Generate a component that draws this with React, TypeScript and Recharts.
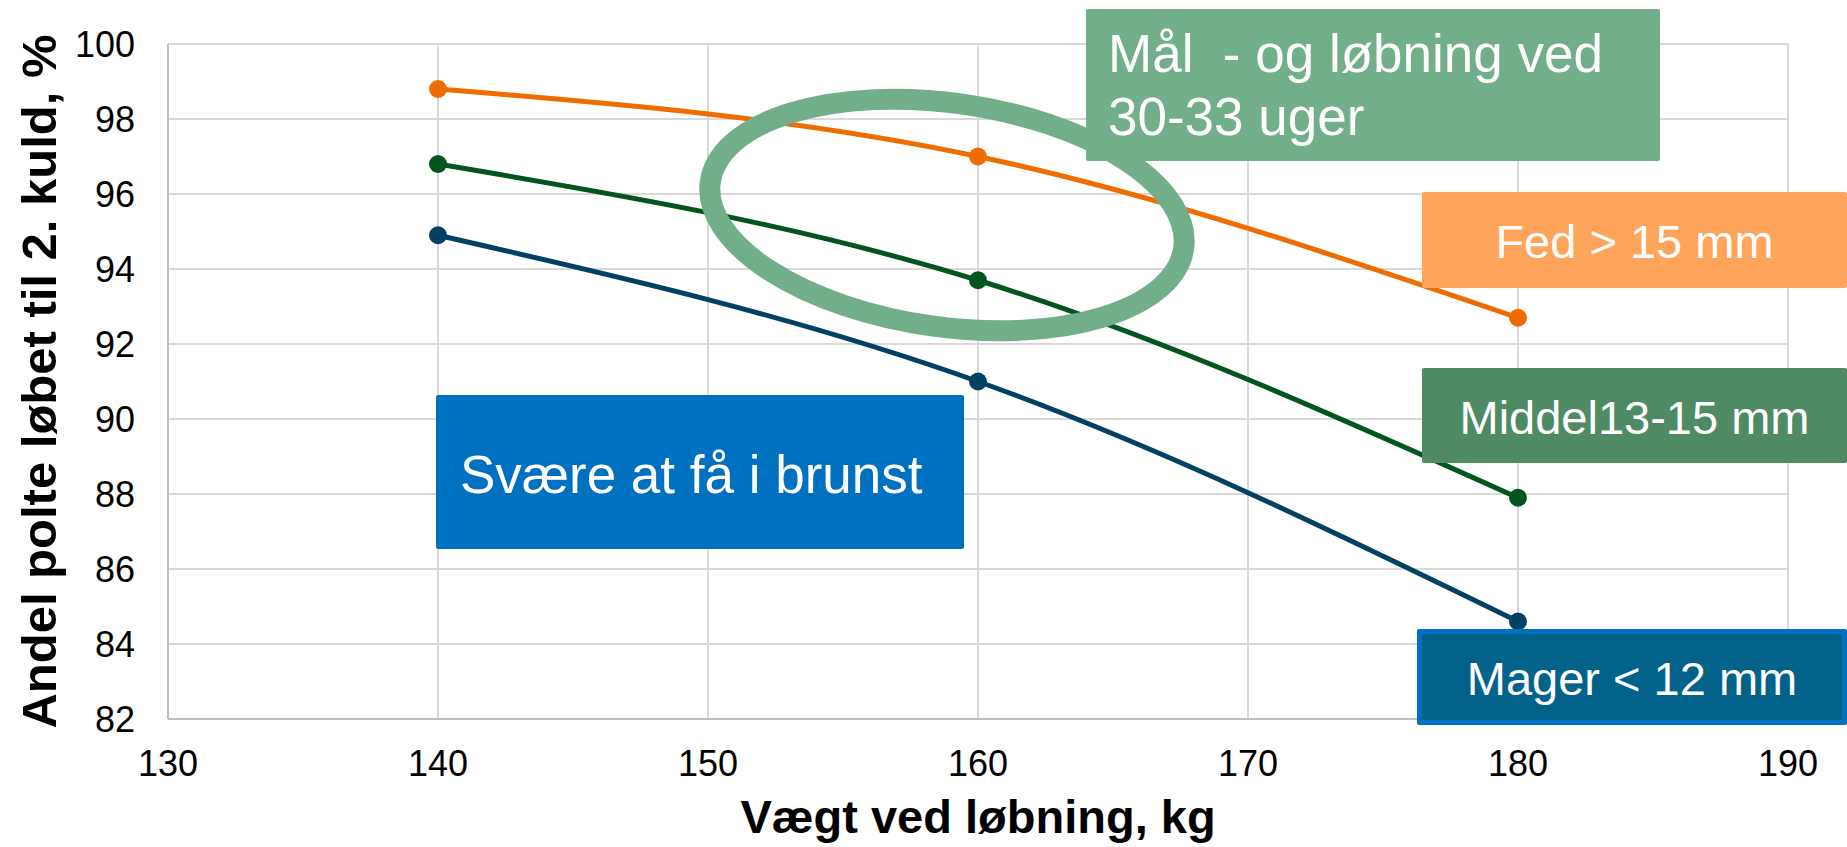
import { LineChart, Line, XAxis, YAxis, CartesianGrid, Label } from 'recharts'

const weights = [140, 160, 180]
const fed = [98.8, 97.0, 92.7]
const middel = [96.8, 93.7, 87.9]
const mager = [94.9, 91.0, 84.6]

const xTicks = [130, 140, 150, 160, 170, 180, 190]
const yTicks = [82, 84, 86, 88, 90, 92, 94, 96, 98, 100]

const FONT = '"Liberation Sans", Arial, sans-serif'
const FED_COLOR = '#EF6C00'
const MIDDEL_COLOR = '#03551F'
const MAGER_COLOR = '#024163'
const RING_COLOR = '#72AE8A'

const data = weights.map((w, i) => ({
  vaegt: w,
  fed: fed[i],
  middel: middel[i],
  mager: mager[i],
}))

type NoteProps = {
  left: number
  top: number
  width: number
  height: number
  bg: string
  border?: string
  fontSize: number
  lineHeight: number
  padTop: number
  padLeft?: number
  align: 'left' | 'center'
  lines: string[]
}

function Note(p: NoteProps) {
  return (
    <div
      style={{
        position: 'absolute',
        left: p.left,
        top: p.top,
        width: p.width,
        height: p.height,
        background: p.bg,
        border: p.border,
        boxSizing: 'border-box',
        borderRadius: 2,
        color: '#fff',
        fontFamily: FONT,
        fontSize: p.fontSize,
        lineHeight: `${p.lineHeight}px`,
        textAlign: p.align,
        paddingTop: p.padTop,
        paddingLeft: p.padLeft ?? 0,
        whiteSpace: 'pre',
      }}
    >
      {p.lines.map((l) => (
        <div key={l}>{l}</div>
      ))}
    </div>
  )
}

export default function App() {
  return (
    <div style={{ position: 'absolute', left: 0, top: 0, width: 1847, height: 847, background: '#fff' }}>
      <LineChart width={1847} height={847} data={data} margin={{ top: 44, right: 59, bottom: 0, left: 18 }}>
        <CartesianGrid stroke="#D9D9D9" strokeWidth={2} />
        <XAxis
          dataKey="vaegt"
          type="number"
          domain={[130, 190]}
          ticks={xTicks}
          height={128}
          tickSize={0}
          tickMargin={31}
          tickLine={false}
          axisLine={{ stroke: '#BFBFBF', strokeWidth: 2 }}
          tick={{ fill: '#000', fontSize: 36, fontFamily: FONT }}
        >
          <Label
            value="Vægt ved løbning, kg"
            position="insideBottom"
            offset={14}
            style={{ fill: '#000', fontSize: 47, fontWeight: 'bold', fontFamily: FONT }}
          />
        </XAxis>
        <YAxis
          type="number"
          domain={[82, 100]}
          ticks={yTicks}
          width={150}
          tickSize={0}
          tickMargin={33}
          tickLine={false}
          axisLine={{ stroke: '#BFBFBF', strokeWidth: 2 }}
          tick={{ fill: '#000', fontSize: 36, fontFamily: FONT }}
        >
          <Label
            value="Andel polte løbet til 2. kuld, %"
            angle={-90}
            position="insideLeft"
            offset={21}
            style={{ fill: '#000', fontSize: 49, fontWeight: 'bold', fontFamily: FONT, textAnchor: 'middle' }}
          />
        </YAxis>
        <Line type="monotone" dataKey="mager" stroke={MAGER_COLOR} strokeWidth={5}
          dot={{ r: 9, fill: MAGER_COLOR, stroke: 'none' }} activeDot={false} isAnimationActive={false} />
        <Line type="monotone" dataKey="middel" stroke={MIDDEL_COLOR} strokeWidth={5}
          dot={{ r: 9, fill: MIDDEL_COLOR, stroke: 'none' }} activeDot={false} isAnimationActive={false} />
        <Line type="monotone" dataKey="fed" stroke={FED_COLOR} strokeWidth={5}
          dot={{ r: 9, fill: FED_COLOR, stroke: 'none' }} activeDot={false} isAnimationActive={false} />
      </LineChart>

      {/* ring around the 160 kg points */}
      <svg width={1847} height={847} style={{ position: 'absolute', left: 0, top: 0, pointerEvents: 'none' }}>
        <ellipse cx={947} cy={215} rx={239} ry={112} transform="rotate(8 947 215)"
          fill="none" stroke={RING_COLOR} strokeWidth={21} />
      </svg>

      <Note left={1086} top={9} width={574} height={152} bg={RING_COLOR} fontSize={53} lineHeight={63}
        padTop={13} padLeft={22} align="left" lines={['Mål  - og løbning ved', '30-33 uger']} />
      <Note left={436} top={395} width={528} height={154} bg="#0070C0" fontSize={53} lineHeight={63}
        padTop={48} padLeft={24} align="left" lines={['Svære at få i brunst']} />
      <Note left={1422} top={192} width={425} height={96} bg="#FFA55B" fontSize={47} lineHeight={54}
        padTop={23} align="center" lines={['Fed > 15 mm']} />
      <Note left={1422} top={368} width={425} height={95} bg="#4F8A65" fontSize={47} lineHeight={54}
        padTop={23} align="center" lines={['Middel13-15 mm']} />
      <Note left={1417} top={629} width={430} height={96} bg="#036289" border="5px solid #0070C0"
        fontSize={47} lineHeight={54} padTop={18} align="center" lines={['Mager < 12 mm']} />
    </div>
  )
}
